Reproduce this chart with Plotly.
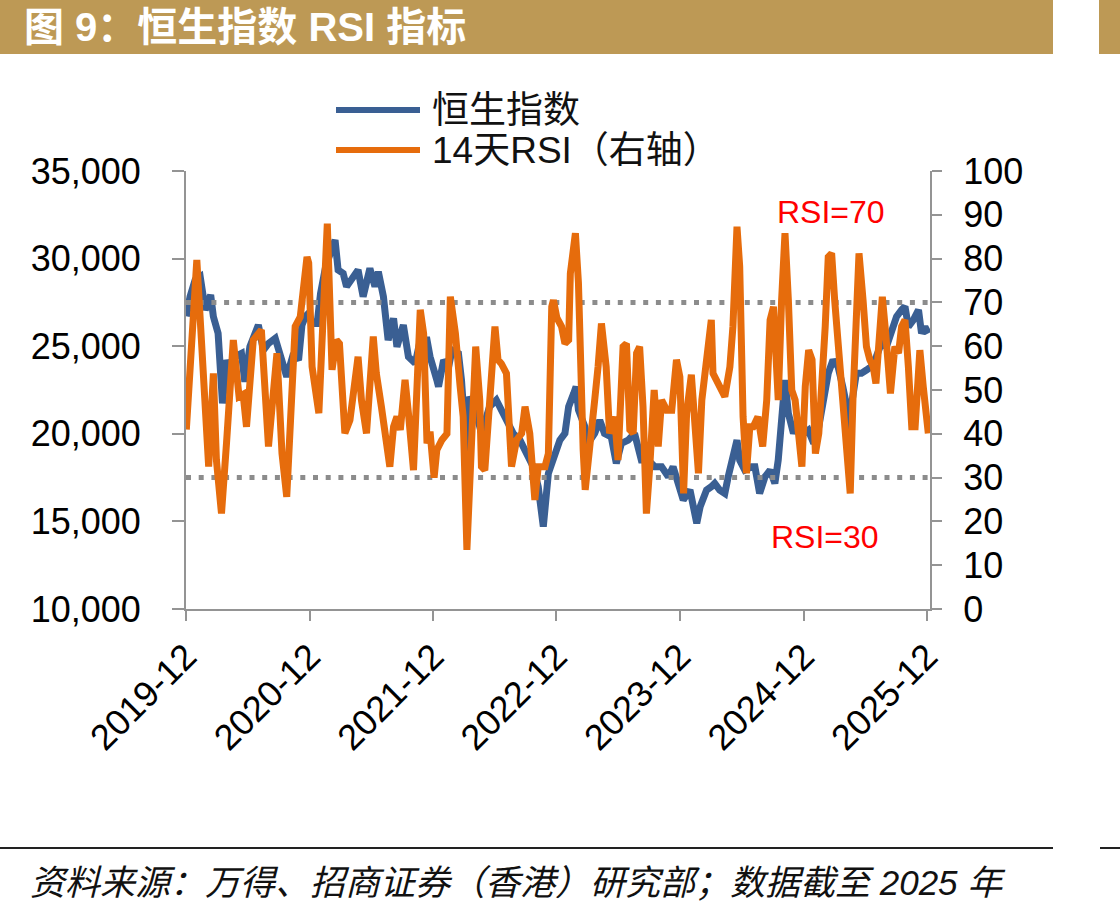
import plotly.graph_objects as go

# ---------------- data ----------------
hsi_dates = [
    "2019-12-02", "2019-12-13", "2019-12-28", "2020-01-12", "2020-01-27", "2020-02-12", "2020-02-20",
    "2020-03-05", "2020-03-18", "2020-03-30", "2020-04-09", "2020-04-24", "2020-05-13", "2020-05-23",
    "2020-06-07", "2020-07-02", "2020-07-17", "2020-08-01", "2020-08-21", "2020-09-05", "2020-09-24",
    "2020-10-14", "2020-10-29", "2020-11-08", "2020-11-18", "2020-11-28", "2020-12-08", "2020-12-23",
    "2021-01-02", "2021-01-17", "2021-02-01", "2021-02-14", "2021-02-23", "2021-03-10", "2021-03-20",
    "2021-04-04", "2021-04-23", "2021-05-08", "2021-05-28", "2021-06-12", "2021-06-22", "2021-07-07",
    "2021-07-21", "2021-08-06", "2021-08-16", "2021-09-04", "2021-09-19", "2021-10-09", "2021-10-24",
    "2021-11-13", "2021-11-22", "2021-12-12", "2021-12-17", "2022-01-01", "2022-01-16", "2022-01-26",
    "2022-02-14", "2022-02-23", "2022-03-11", "2022-03-19", "2022-04-08", "2022-04-23", "2022-05-17",
    "2022-06-06", "2022-06-26", "2022-07-11", "2022-07-26", "2022-08-15", "2022-09-04", "2022-09-23",
    "2022-10-08", "2022-10-23", "2022-11-07", "2022-11-27", "2022-12-11", "2022-12-26", "2023-01-06",
    "2023-01-21", "2023-01-28", "2023-02-04", "2023-02-23", "2023-03-04", "2023-03-24", "2023-04-08",
    "2023-04-22", "2023-05-12", "2023-05-27", "2023-06-11", "2023-07-01", "2023-07-20", "2023-08-09",
    "2023-08-29", "2023-09-18", "2023-10-08", "2023-10-28", "2023-11-11", "2023-11-26", "2023-12-11",
    "2023-12-31", "2024-01-15", "2024-01-20", "2024-01-30", "2024-02-08", "2024-02-18", "2024-03-03",
    "2024-03-13", "2024-03-28", "2024-04-12", "2024-04-22", "2024-05-06", "2024-05-18", "2024-05-26",
    "2024-06-10", "2024-06-30", "2024-07-10", "2024-07-24", "2024-08-09", "2024-08-24", "2024-09-07",
    "2024-09-17", "2024-09-27", "2024-10-07", "2024-10-17", "2024-11-01", "2024-11-16", "2024-11-30",
    "2024-12-15", "2024-12-31", "2025-01-15", "2025-01-30", "2025-02-12", "2025-02-26", "2025-03-13",
    "2025-03-27", "2025-04-12", "2025-04-16", "2025-04-24", "2025-05-06", "2025-05-21", "2025-06-05",
    "2025-06-19", "2025-07-04", "2025-07-19", "2025-08-03", "2025-08-18", "2025-09-02", "2025-09-17",
    "2025-09-27", "2025-10-07", "2025-10-22", "2025-11-06", "2025-11-15", "2025-11-25", "2025-12-05",
]
hsi_values = [
    26700, 27830, 28780, 28970, 27070, 27920, 26690,
    25730, 21740, 24210, 23640, 24400, 24590, 22970,
    24970, 26210, 24780, 25160, 25450, 24400, 23260,
    24590, 24210, 26200, 26690, 26880, 26300, 26300,
    28000, 29540, 30300, 31060, 29350, 29160, 28400,
    28780, 29350, 27830, 29440, 28400, 29250, 27830,
    25350, 26590, 24970, 26210, 24400, 24020, 25350,
    25350, 24400, 23070, 22690, 24210, 23830, 24780,
    24590, 23070, 18500, 22120, 21170, 20020, 21550,
    21930, 21170, 20780, 20020, 19640, 18880, 18120,
    16980, 14700, 17740, 18880, 19640, 20020, 21550,
    22310, 22690, 21360, 20400, 19450, 20020, 20780,
    20020, 19830, 18310, 19450, 19640, 20020, 18500,
    18500, 18120, 18120, 17550, 18120, 16980, 16220,
    16790, 15270, 14890, 15840, 16220, 16790, 16980,
    17170, 16790, 16600, 17550, 18880, 19640, 18500,
    17930, 18120, 18120, 16600, 17550, 17930, 17170,
    18500, 21550, 23070, 21170, 20020, 20780, 20020,
    20210, 19450, 20400, 22310, 23450, 24210, 23830,
    22690, 21170, 19640, 21930, 23450, 23450, 23640,
    23830, 24400, 25160, 24970, 25730, 26690, 27070,
    27260, 26110, 26500, 27070, 25730, 26110, 25730,
]

rsi_dates = [
    "2019-12-02", "2020-01-02", "2020-02-06", "2020-02-20", "2020-02-29", "2020-03-15", "2020-03-30",
    "2020-04-19", "2020-05-06", "2020-05-18", "2020-05-28", "2020-06-17", "2020-07-11", "2020-08-01",
    "2020-08-26", "2020-09-10", "2020-09-24", "2020-10-09", "2020-10-19", "2020-11-03", "2020-11-23",
    "2020-11-28", "2020-12-08", "2020-12-28", "2021-01-12", "2021-01-22", "2021-02-05", "2021-02-18",
    "2021-02-27", "2021-03-15", "2021-03-30", "2021-04-13", "2021-04-23", "2021-05-03", "2021-05-18",
    "2021-06-07", "2021-06-16", "2021-07-01", "2021-07-11", "2021-07-26", "2021-08-06", "2021-08-16",
    "2021-08-26", "2021-09-09", "2021-09-19", "2021-10-04", "2021-10-24", "2021-11-03", "2021-11-13",
    "2021-11-22", "2021-12-04", "2021-12-12", "2021-12-27", "2022-01-11", "2022-01-21", "2022-02-05",
    "2022-02-19", "2022-02-28", "2022-03-11", "2022-03-24", "2022-04-06", "2022-04-18", "2022-04-23",
    "2022-05-03", "2022-05-17", "2022-06-02", "2022-06-11", "2022-06-21", "2022-07-06", "2022-07-21",
    "2022-08-05", "2022-08-20", "2022-08-30", "2022-09-13", "2022-09-28", "2022-10-08", "2022-10-28",
    "2022-11-07", "2022-11-17", "2022-11-22", "2022-12-02", "2022-12-16", "2022-12-26", "2023-01-06",
    "2023-01-11", "2023-01-26", "2023-02-04", "2023-02-09", "2023-02-18", "2023-02-24", "2023-03-09",
    "2023-03-24", "2023-04-03", "2023-04-13", "2023-04-27", "2023-05-07", "2023-05-22", "2023-06-01",
    "2023-06-16", "2023-06-26", "2023-07-06", "2023-07-16", "2023-07-26", "2023-08-04", "2023-08-14",
    "2023-08-24", "2023-09-03", "2023-09-16", "2023-09-28", "2023-10-08", "2023-10-23", "2023-11-07",
    "2023-11-21", "2023-12-01", "2023-12-12", "2023-12-21", "2024-01-04", "2024-01-15", "2024-01-25",
    "2024-02-04", "2024-02-13", "2024-02-18", "2024-03-03", "2024-03-08", "2024-03-23", "2024-04-02",
    "2024-04-12", "2024-04-27", "2024-05-06", "2024-05-18", "2024-05-26", "2024-06-05", "2024-06-15",
    "2024-06-25", "2024-07-05", "2024-07-19", "2024-08-02", "2024-08-14", "2024-08-24", "2024-09-03",
    "2024-09-17", "2024-09-27", "2024-10-07", "2024-10-17", "2024-10-27", "2024-11-06", "2024-11-16",
    "2024-11-26", "2024-12-06", "2024-12-16", "2024-12-26", "2025-01-05", "2025-01-15", "2025-01-25",
    "2025-02-03", "2025-02-12", "2025-02-22", "2025-03-03", "2025-03-13", "2025-03-23", "2025-04-07",
    "2025-04-18", "2025-04-26", "2025-05-06", "2025-05-14", "2025-05-26", "2025-06-05", "2025-06-15",
    "2025-06-25", "2025-07-03", "2025-07-09", "2025-07-22", "2025-08-01", "2025-08-08", "2025-08-15",
    "2025-08-28", "2025-09-08", "2025-09-17", "2025-09-27", "2025-10-07", "2025-10-17", "2025-10-27",
    "2025-11-10", "2025-11-20", "2025-11-30", "2025-12-05",
]
rsi_values = [
    41.0, 79.7, 32.5, 53.8, 34.0, 21.8, 38.0,
    61.4, 48.5, 49.0, 41.6, 61.4, 63.7, 37.1,
    58.4, 35.5, 25.6, 45.0, 64.5, 66.7, 80.4,
    79.0, 55.3, 44.7, 70.5, 88.0, 54.6, 61.4,
    60.6, 40.1, 43.1, 53.8, 57.6, 47.7, 40.1,
    62.2, 53.8, 46.2, 41.6, 32.5, 41.6, 43.9,
    40.9, 52.3, 44.7, 31.7, 68.3, 62.9, 37.8,
    40.5, 30.0, 36.3, 38.6, 40.0, 71.3, 62.9,
    50.8, 43.9, 13.5, 40.1, 59.9, 47.7, 32.5,
    31.7, 47.7, 64.5, 56.9, 56.0, 53.8, 32.5,
    38.6, 40.1, 46.2, 40.1, 24.9, 32.5, 32.5,
    35.5, 69.0, 70.5, 66.5, 64.5, 60.6, 61.4,
    76.6, 85.8, 74.4, 55.3, 36.3, 27.2, 38.6,
    47.7, 55.3, 65.2, 55.3, 40.1, 43.9, 34.0,
    59.9, 60.6, 40.9, 40.1, 58.4, 59.9, 46.2,
    21.8, 32.5, 50.0, 37.1, 47.7, 45.4, 45.4,
    56.9, 53.0, 26.4, 44.7, 53.5, 40.0, 31.0,
    47.7, 53.8, 59.1, 66.0, 53.8, 51.5, 50.8,
    48.5, 55.3, 64.5, 87.3, 78.2, 43.9, 31.0,
    41.6, 41.6, 43.9, 37.1, 47.7, 66.0, 69.0,
    47.7, 70.5, 85.8, 70.5, 50.0, 47.7, 40.1,
    32.5, 50.8, 59.1, 56.9, 35.5, 40.1, 50.8,
    64.5, 80.4, 81.2, 70.5, 60.6, 47.7, 35.5,
    26.4, 47.7, 70.5, 81.2, 70.5, 59.9, 56.9,
    55.3, 51.5, 59.1, 71.3, 62.9, 53.8, 49.2,
    59.9, 58.4, 64.5, 66.0, 55.3, 41.6, 41.6,
    59.1, 50.8, 41.6, 40.1,
]

x_range = ["2019-12-01", "2025-12-10"]
tick_dates = ["2019-12-01", "2020-12-01", "2021-12-01", "2022-12-01", "2023-12-01", "2024-12-01", "2025-12-01"]
tick_labels = ["2019-12", "2020-12", "2021-12", "2022-12", "2023-12", "2024-12", "2025-12"]
rsi_levels = [70, 30]
rsi_level_labels = ["RSI=70", "RSI=30"]
series_names = ["恒生指数", "14天RSI（右轴）"]
title_text = "图 9：恒生指数 RSI 指标"
source_text = "资料来源：万得、招商证券（香港）研究部；数据截至 2025 年"

# ---------------- layout helpers ----------------
W, H = 1120, 916
L, R, T, B = 186, 190, 171, 307
PW, PH = W - L - R, H - T - B


def px_x(px):
    return (px - L) / PW


def px_y(py):
    return (H - B - py) / PH


BLUE = "#3A5F93"
ORANGE = "#E66C0C"
GOLD = "#BD9955"
AXIS = "#949494"
LATIN = "Liberation Sans, Arial, sans-serif"
CJK = "Liberation Sans, Noto Sans CJK SC, sans-serif"

fig = go.Figure()
fig.add_trace(go.Scatter(x=hsi_dates, y=hsi_values, mode="lines", name=series_names[0],
                         line=dict(color=BLUE, width=7), yaxis="y", showlegend=False))
for lvl in rsi_levels:
    fig.add_trace(go.Scatter(x=x_range, y=[lvl, lvl], mode="lines", yaxis="y2", showlegend=False,
                             line=dict(color="#8C8C8C", width=5, dash="5px,7.7px"), hoverinfo="skip"))
fig.add_trace(go.Scatter(x=rsi_dates, y=rsi_values, mode="lines", name=series_names[1],
                         line=dict(color=ORANGE, width=7), yaxis="y2", showlegend=False))

shapes = [
    # title bar
    dict(type="rect", xref="paper", yref="paper", x0=px_x(0), x1=px_x(1053), y0=px_y(54), y1=px_y(0),
         fillcolor=GOLD, line=dict(width=0), layer="below"),
    dict(type="rect", xref="paper", yref="paper", x0=px_x(1099), x1=px_x(1120), y0=px_y(54), y1=px_y(0),
         fillcolor=GOLD, line=dict(width=0), layer="below"),
    # footer rule
    dict(type="line", xref="paper", yref="paper", x0=px_x(0), x1=px_x(1053), y0=px_y(848), y1=px_y(848),
         line=dict(color="#222222", width=2)),
    dict(type="line", xref="paper", yref="paper", x0=px_x(1100), x1=px_x(1120), y0=px_y(848), y1=px_y(848),
         line=dict(color="#222222", width=2)),
    # legend lines
    dict(type="line", xref="paper", yref="paper", x0=px_x(336), x1=px_x(420), y0=px_y(110), y1=px_y(110),
         line=dict(color=BLUE, width=6)),
    dict(type="line", xref="paper", yref="paper", x0=px_x(336), x1=px_x(420), y0=px_y(150), y1=px_y(150),
         line=dict(color=ORANGE, width=6)),
]

annotations = [
    dict(text=f"<b>{title_text}</b>", xref="paper", yref="paper", x=px_x(22), y=px_y(27),
         xanchor="left", yanchor="middle", showarrow=False, font=dict(family=CJK, size=40, color="white")),
    dict(text=source_text, xref="paper", yref="paper", x=px_x(28), y=px_y(882),
         xanchor="left", yanchor="middle", showarrow=False,
         font=dict(family=CJK, size=35, color="#111111", style="italic")),
    dict(text=series_names[0], xref="paper", yref="paper", x=px_x(430), y=px_y(110),
         xanchor="left", yanchor="middle", showarrow=False, font=dict(family=CJK, size=37, color="#111111")),
    dict(text=series_names[1], xref="paper", yref="paper", x=px_x(430), y=px_y(150),
         xanchor="left", yanchor="middle", showarrow=False, font=dict(family=CJK, size=37, color="#111111")),
    dict(text=rsi_level_labels[0], xref="paper", yref="y2", x=px_x(831), y=90.6,
         xanchor="center", yanchor="middle", showarrow=False, font=dict(family=LATIN, size=32, color="#FF0000")),
    dict(text=rsi_level_labels[1], xref="paper", yref="y2", x=px_x(825), y=16.4,
         xanchor="center", yanchor="middle", showarrow=False, font=dict(family=LATIN, size=32, color="#FF0000")),
]

fig.update_layout(
    width=W, height=H,
    margin=dict(l=L, r=R, t=T, b=B, pad=0),
    paper_bgcolor="white", plot_bgcolor="white",
    showlegend=False,
    shapes=shapes, annotations=annotations,
    xaxis=dict(type="date", range=x_range, tickvals=tick_dates, ticktext=tick_labels,
               tickangle=-45, ticks="outside", ticklen=10, tickwidth=2, tickcolor=AXIS,
               showline=True, linecolor=AXIS, linewidth=2, showgrid=False, zeroline=False,
               tickfont=dict(family=LATIN, size=36, color="#000000")),
    yaxis=dict(range=[10000, 35000], dtick=5000, tick0=10000, tickformat=",d",
               ticks="outside", ticklen=12, tickwidth=2, tickcolor=AXIS,
               showline=True, linecolor=AXIS, linewidth=2, showgrid=False, zeroline=False,
               ticklabelstandoff=24,
               tickfont=dict(family=LATIN, size=36, color="#000000")),
    yaxis2=dict(range=[0, 100], dtick=10, tick0=0, overlaying="y", side="right",
                ticks="outside", ticklen=10, tickwidth=2, tickcolor=AXIS,
                showline=True, linecolor=AXIS, linewidth=2, showgrid=False, zeroline=False,
                ticklabelstandoff=14,
                tickfont=dict(family=LATIN, size=36, color="#000000")),
)

fig.write_html("out.html")
